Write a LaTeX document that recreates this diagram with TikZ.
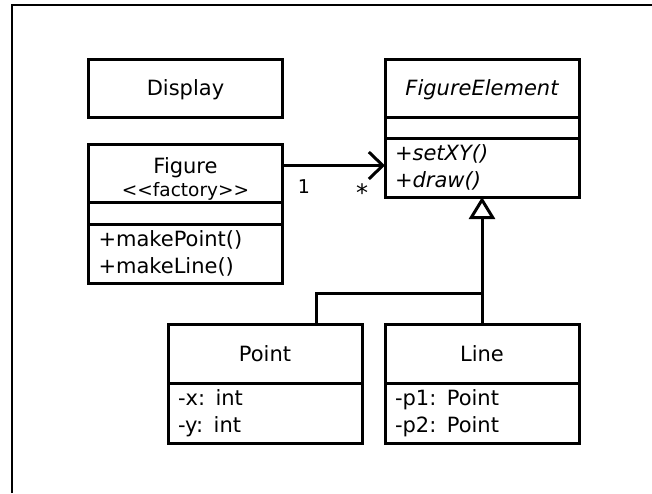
\documentclass[tikz,border=0pt]{standalone}
\usepackage{fontspec}
\newfontfamily\umlfont{DejaVu Sans}
\usetikzlibrary{positioning}
\usetikzlibrary{calc}
\usetikzlibrary{arrows.meta}

\tikzset{
  compart/.style={draw, line width=3pt, minimum width=194pt, inner sep=0pt, outer sep=0pt,
    font=\umlfont\fontsize{21}{27}\selectfont},
  namebox/.style={compart, minimum height=58pt, align=center},
  singlename/.style={namebox, text height=15pt, text depth=0pt},
  memberbox/.style={compart, inner xsep=10pt, text width=174pt, align=left},
  emptybox/.style={compart, minimum height=#1},
  assoc/.style={line width=3pt, -{Straight Barb[length=14pt,width=27pt]}},
  inherit/.style={line width=3pt, -{Triangle[open,length=22pt,width=26pt]}},
  mult/.style={font=\umlfont\fontsize{19}{22}\selectfont, anchor=base, inner sep=0pt},
}

\begin{document}
\begin{tikzpicture}[x=1pt, y=-1pt]
  \useasboundingbox (0,0) rectangle (652,493);
  \draw[line width=2pt] (12,493) -- (12,5) -- (652,5);
  % classes
  \node[singlename, anchor=north west] (display) at (88.5,59) {Display};
  \node[singlename, minimum height=58.5pt, anchor=north west] (elemname) at (385,59) {\itshape FigureElement};
  \node[emptybox=21pt, below=0pt of elemname] (elemattr) {};
  \node[memberbox, minimum height=58.5pt, below=0pt of elemattr] (elemops) {\itshape +setXY()\\+draw()};
  \node[namebox, anchor=north west] (figname) at (88.5,144.5)
    {\rule{0pt}{26pt}Figure\\[-4pt]{\fontsize{18.5}{20}\selectfont <<factory>>}};
  \node[emptybox=21.5pt, below=0pt of figname] (figattr) {};
  \node[memberbox, minimum height=59pt, below=0pt of figattr] (figops) {+makePoint()\\+makeLine()};
  \node[singlename, minimum height=59pt, anchor=north west] (ptname) at (168,324) {Point};
  \node[memberbox, minimum height=60pt, below=0pt of ptname] (ptattr) {-x: int\\-y: int};
  \node[singlename, minimum height=59pt, anchor=north west] (lnname) at (385,324) {Line};
  \node[memberbox, minimum height=60pt, below=0pt of lnname] (lnattr) {-p1: Point\\-p2: Point};
  % association
  \coordinate (assocstart) at ($(figname.east)+(0,-8)$);
  \draw[assoc] (assocstart) -- (assocstart -| elemops.west);
  \node[mult] (one) at (304,193.5) {1};
  \node[mult, font=\umlfont\fontsize{24}{26}\selectfont] (many) at (362,201) {*};
  % generalization
  \coordinate (join) at ($(lnname.north)+(0,-31)$);
  \draw[inherit] (lnname.north) -- (elemops.south);
  \draw[line width=3pt] ($(ptname.north)+(51,0)$) |- (join);
\end{tikzpicture}
\end{document}
